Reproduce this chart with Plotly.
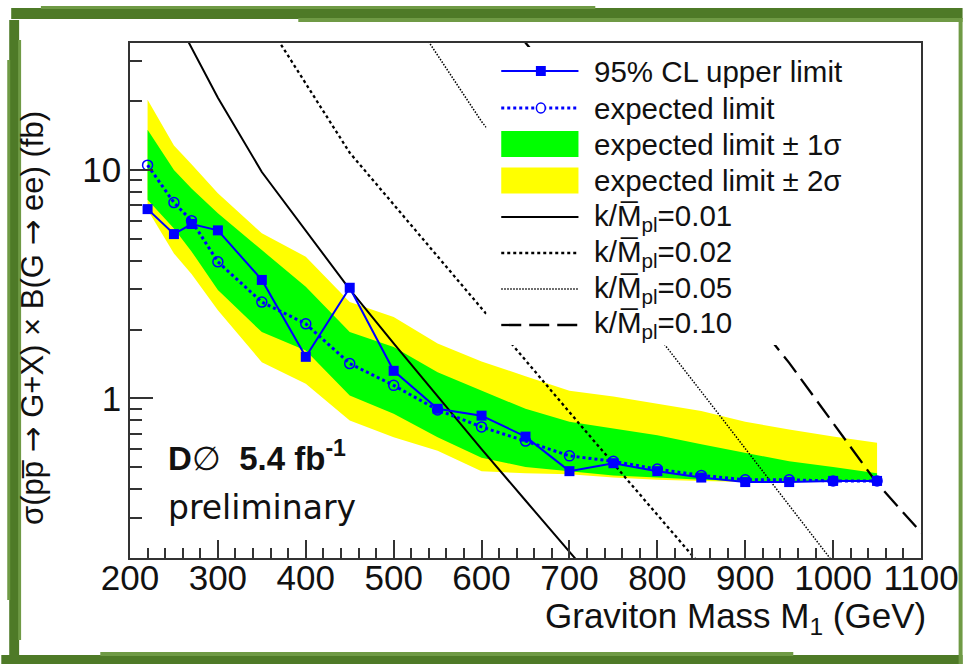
import plotly.graph_objects as go

# ---------------- data ----------------
mass = [220, 250, 270, 300, 350, 400, 450, 500, 550, 600, 650, 700, 750, 800, 850, 900, 950, 1000, 1050]
observed = [6.74, 5.24, 5.8, 5.44, 3.30, 1.52, 3.05, 1.32, 0.90, 0.84, 0.68, 0.48, 0.52, 0.48, 0.45, 0.43, 0.43, 0.435, 0.435]
expected = [10.5, 7.2, 6.0, 3.96, 2.64, 2.12, 1.42, 1.14, 0.89, 0.75, 0.65, 0.56, 0.53, 0.49, 0.46, 0.44, 0.44, 0.435, 0.435]
sig1_hi = [15.0, 10.0, 8.3, 6.46, 4.46, 3.08, 1.95, 1.68, 1.30, 1.08, 0.90, 0.79, 0.74, 0.69, 0.63, 0.58, 0.53, 0.50, 0.47]
sig1_lo = [7.4, 5.55, 4.4, 2.98, 1.95, 1.62, 1.03, 0.857, 0.676, 0.55, 0.50, 0.48, 0.46, 0.45, 0.44, 0.435, 0.43, 0.43, 0.43]
sig2_hi = [20.3, 12.8, 10.6, 7.9, 5.28, 4.17, 2.64, 2.27, 1.74, 1.45, 1.25, 1.08, 1.02, 0.95, 0.88, 0.79, 0.73, 0.68, 0.64]
sig2_lo = [6.7, 4.31, 3.5, 2.43, 1.44, 1.16, 0.80, 0.676, 0.59, 0.48, 0.47, 0.465, 0.45, 0.44, 0.435, 0.43, 0.43, 0.43, 0.43]

k001_m = [250, 300, 350, 400, 450, 500, 550, 600, 650, 700, 750]
k001_v = [48, 20.7, 9.8, 5.4, 3.0, 1.74, 1.02, 0.60, 0.357, 0.212, 0.127]
k002_m = [350, 400, 450, 500, 550, 600, 650, 700, 750, 800, 850, 900]
k002_v = [48, 23.9, 11.9, 7.06, 4.18, 2.47, 1.46, 0.87, 0.518, 0.309, 0.184, 0.11]
k005_m = [500, 550, 600, 650, 700, 750, 800, 850, 900, 950, 1000, 1050]
k005_v = [62, 31.9, 16.3, 9.4, 5.5, 3.24, 1.89, 1.07, 0.605, 0.341, 0.192, 0.108]
k010_m = [600, 650, 700, 750, 800, 850, 900, 950, 1000, 1050, 1100, 1150]
k010_v = [62, 36, 20.9, 12.2, 7.1, 4.15, 2.49, 1.43, 0.778, 0.425, 0.259, 0.157]

legend_labels = ["95% CL upper limit", "expected limit", "expected limit \u00b1 1\u03c3",
                 "expected limit \u00b1 2\u03c3", "k/M\u0305<sub>pl</sub>=0.01", "k/M\u0305<sub>pl</sub>=0.02",
                 "k/M\u0305<sub>pl</sub>=0.05", "k/M\u0305<sub>pl</sub>=0.10"]
x_ticks = [200, 300, 400, 500, 600, 700, 800, 900, 1000, 1100]
y_ticks = [1, 10]
y_tick_text = ["1", "10"]

# ---------------- geometry helpers ----------------
W, H = 971, 664
PL, PR, PT, PB = 130, 929, 43, 558


def xp(px):
    return (px - PL) / (PR - PL)


def yp(py):
    return (PB - py) / (PB - PT)


BLUE = "#0000ff"
GREEN = "#00ff00"
YELLOW = "#ffff00"
FONT = "Liberation Sans, Arial, sans-serif"

fig = go.Figure()

# bands
fig.add_trace(go.Scatter(x=mass + mass[::-1], y=sig2_hi + sig2_lo[::-1], fill="toself",
                         fillcolor=YELLOW, mode="lines", line=dict(width=0, color=YELLOW),
                         showlegend=False, hoverinfo="skip"))
fig.add_trace(go.Scatter(x=mass + mass[::-1], y=sig1_hi + sig1_lo[::-1], fill="toself",
                         fillcolor=GREEN, mode="lines", line=dict(width=0, color=GREEN),
                         showlegend=False, hoverinfo="skip"))

K_STYLES = [dict(color="black", width=2), dict(color="black", width=2.3, dash="3px,3px"),
            dict(color="black", width=1.5, dash="1.5px,1.5px"), dict(color="black", width=2.3, dash="20px,8px")]

# theory curves
for xs, ys, st in zip([k001_m, k002_m, k005_m, k010_m], [k001_v, k002_v, k005_v, k010_v], K_STYLES):
    fig.add_trace(go.Scatter(x=xs, y=ys, mode="lines", line=st, showlegend=False))

# expected & observed
fig.add_trace(go.Scatter(x=mass, y=expected, mode="lines+markers",
                         line=dict(color=BLUE, width=3, dash="3px,3px"),
                         marker=dict(symbol="circle-open", size=10, color=BLUE, line=dict(width=1.5, color=BLUE)),
                         showlegend=False))
fig.add_trace(go.Scatter(x=mass, y=observed, mode="lines+markers",
                         line=dict(color=BLUE, width=2),
                         marker=dict(symbol="square", size=10, color=BLUE),
                         showlegend=False))

shapes = []
annotations = []

# ---- manual legend (white box covering curves) ----
shapes.append(dict(type="rect", xref="paper", yref="paper", x0=xp(490), x1=xp(926), y0=yp(345), y1=yp(47),
                   fillcolor="white", line=dict(width=0), layer="above"))
rows = [71, 108, 144, 180.5, 217, 253, 289, 325]
sx0, sx1, smid = 505, 583, 545
# 1 observed
shapes.append(dict(type="line", xref="paper", yref="paper", x0=xp(sx0), x1=xp(sx1), y0=yp(rows[0]), y1=yp(rows[0]),
                   line=dict(color=BLUE, width=2), layer="above"))
shapes.append(dict(type="rect", xref="paper", yref="paper", x0=xp(smid - 5), x1=xp(smid + 5),
                   y0=yp(rows[0] + 5), y1=yp(rows[0] - 5), fillcolor=BLUE, line=dict(width=0), layer="above"))
# 2 expected
shapes.append(dict(type="line", xref="paper", yref="paper", x0=xp(sx0), x1=xp(sx1), y0=yp(rows[1]), y1=yp(rows[1]),
                   line=dict(color=BLUE, width=3, dash="3px,3px"), layer="above"))
shapes.append(dict(type="circle", xref="paper", yref="paper", x0=xp(smid - 4.5), x1=xp(smid + 4.5),
                   y0=yp(rows[1] + 5), y1=yp(rows[1] - 5), fillcolor="white",
                   line=dict(color=BLUE, width=1.5), layer="above"))
# 3,4 bands
shapes.append(dict(type="rect", xref="paper", yref="paper", x0=xp(sx0), x1=xp(sx1), y0=yp(rows[2] + 13),
                   y1=yp(rows[2] - 13), fillcolor=GREEN, line=dict(width=0), layer="above"))
shapes.append(dict(type="rect", xref="paper", yref="paper", x0=xp(sx0), x1=xp(sx1), y0=yp(rows[3] + 13),
                   y1=yp(rows[3] - 13), fillcolor=YELLOW, line=dict(width=0), layer="above"))
# 5-8 theory
for r, st in zip(rows[4:], K_STYLES):
    shapes.append(dict(type="line", xref="paper", yref="paper", x0=xp(sx0), x1=xp(sx1), y0=yp(r), y1=yp(r),
                       line=st, layer="above"))
for r, lab in zip(rows, legend_labels):
    annotations.append(dict(x=xp(597), y=yp(r), xref="paper", yref="paper", text=lab, showarrow=False,
                            xanchor="left", yanchor="middle", font=dict(family=FONT, size=29.5, color="#111")))

# ---- text ----
ARROW = '<span style="font-family:DejaVu Sans">\u2192</span>'
annotations.append(dict(x=xp(166), y=yp(456), xref="paper", yref="paper",
                        text="<b>D</b>\u2205  <b>5.4 fb<sup>-1</sup></b>", showarrow=False,
                        xanchor="left", yanchor="middle", font=dict(family=FONT, size=33, color="#111")))
annotations.append(dict(x=xp(166), y=yp(507), xref="paper", yref="paper", text="preliminary", showarrow=False,
                        xanchor="left", yanchor="middle", font=dict(family="DejaVu Sans", size=33, color="#111")))
annotations.append(dict(x=xp(936), y=yp(618), xref="paper", yref="paper",
                        text="Graviton Mass M<sub>1</sub> (GeV)", showarrow=False,
                        xanchor="right", yanchor="middle", font=dict(family=FONT, size=35, color="#111")))
annotations.append(dict(x=xp(31), y=yp(318), xref="paper", yref="paper",
                        text="\u03c3(pp\u0305 " + ARROW + " G+X) \u00d7 B(G " + ARROW + " ee) (fb)",
                        showarrow=False, textangle=-90, xanchor="center", yanchor="middle",
                        font=dict(family=FONT, size=31, color="#111")))

# ---- decorative green brush frame ----
G1 = "#4e7a27"
G2 = "#6f9a45"
deco = [
    (10, 8, 971, 19, G1), (40, 6, 600, 9, G2), (300, 18, 971, 22, G2),
    (8, 20, 18, 664, G1), (6, 60, 9, 600, G2), (17, 40, 20, 640, G2),
    (0, 655, 971, 664, G1), (100, 652, 800, 656, G2),
    (967, 18, 971, 664, G2),
]
for x0, y0, x1, y1, c in deco:
    shapes.append(dict(type="rect", xref="paper", yref="paper", x0=xp(x0), x1=xp(x1), y0=yp(y1), y1=yp(y0),
                       fillcolor=c, line=dict(width=0), layer="above"))

axis_common = dict(showline=True, linecolor="#333", linewidth=1.5, mirror=True, showgrid=False,
                   zeroline=False, ticks="inside", tickcolor="#333", tickwidth=1.5,
                   tickfont=dict(family=FONT, size=35, color="#111"))

fig.update_layout(
    width=W, height=H,
    margin=dict(l=PL, r=W - PR, t=PT, b=H - PB),
    paper_bgcolor="white", plot_bgcolor="white",
    showlegend=False,
    shapes=shapes, annotations=annotations,
    xaxis=dict(range=[200, 1100], tickmode="array", tickvals=x_ticks, ticklen=18, ticklabelstandoff=-12,
               minor=dict(dtick=20, ticklen=10, ticks="inside", tickcolor="#333", tickwidth=1.5),
               **axis_common),
    yaxis=dict(type="log", range=[-0.699, 1.556], tickmode="array", tickvals=y_ticks, ticktext=y_tick_text,
               ticklen=23,
               minor=dict(tickmode="array",
                          tickvals=[m * d for d in (0.1, 1, 10) for m in range(2, 10)],
                          ticklen=12, ticks="inside", tickcolor="#333", tickwidth=1.5),
               **axis_common),
)

fig.write_html("out.html")
